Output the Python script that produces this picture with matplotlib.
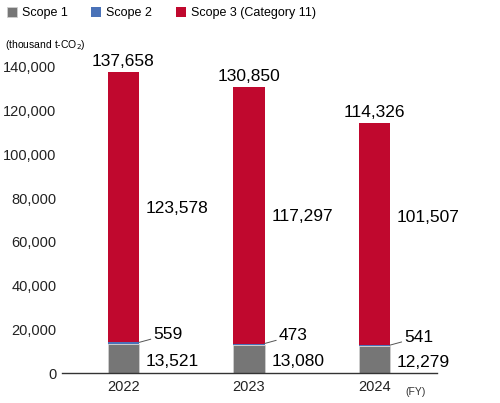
import numpy as np
import matplotlib.pyplot as plt

plt.rcParams['font.family'] = ['Liberation Sans', 'DejaVu Sans']

years = ['2022', '2023', '2024']
scope1 = [13521, 13080, 12279]
scope2 = [559, 473, 541]
scope3 = [123578, 117297, 101507]
totals = [137658, 130850, 114326]

c1 = '#767676'
c2 = '#4a72b8'
c3 = '#c0082e'

fig = plt.figure(figsize=(5, 4.03), dpi=100)
ax = fig.add_axes([0.124, 0.074, 0.75, 0.76])

x = np.arange(len(years))
w = 0.25
s1 = np.array(scope1)
s2 = np.array(scope2)
s3 = np.array(scope3)
ax.bar(x, s1, w, color=c1, edgecolor='#cfcfcf', linewidth=0.6, label='Scope 1')
ax.bar(x, s2, w, bottom=s1, color=c2, linewidth=0, label='Scope 2')
ax.bar(x, s3, w, bottom=s1 + s2, color=c3, linewidth=0, label='Scope 3 (Category 11)')

ax.set_xlim(-0.49, 2.5)
ax.set_ylim(0, 140000)
ax.set_yticks(range(0, 140001, 20000))
ax.set_yticklabels([f'{v:,}' for v in range(0, 140001, 20000)])
ax.set_xticks(x)
ax.set_xticklabels(years)
ax.tick_params(axis='both', length=0, labelsize=10.5, colors='#222222')
ax.tick_params(axis='y', pad=4)
ax.tick_params(axis='x', pad=5)
for sp in ['top', 'right', 'left']:
    ax.spines[sp].set_visible(False)
ax.spines['bottom'].set_color('#333333')
ax.spines['bottom'].set_linewidth(1.0)

for i in range(len(years)):
    ax.text(x[i], totals[i] + 1500, f'{totals[i]:,}', ha='center', va='bottom', fontsize=12.5)
    # scope 3 labels sit near the middle of the red part, but not lower than the 2023 one
    mid3 = max(s1[i] + s2[i] + s3[i] / 2, 72000)
    ax.text(x[i] + 0.18, mid3, f'{scope3[i]:,}', ha='left', va='center_baseline', fontsize=12.5)
    ax.text(x[i] + 0.18, s1[i] / 2 - 600, f'{scope1[i]:,}', ha='left', va='center_baseline', fontsize=12.5)
    top = s1[i] + s2[i]
    ax.annotate(f'{scope2[i]:,}', xy=(x[i] + w / 2, top), xytext=(x[i] + 0.24, top + 4300),
                ha='left', va='center_baseline', fontsize=12.5,
                arrowprops=dict(arrowstyle='-', color='#555555', lw=0.7, shrinkA=0, shrinkB=0))

ax.text(2.25, -0.045, '(FY)', transform=ax.get_xaxis_transform(), ha='left', va='top',
        fontsize=7.5, color='#333333')

fig.text(0.01, 0.872, '(thousand t-CO$_2$)', fontsize=7.5, ha='left', va='bottom')

handles, labels = ax.get_legend_handles_labels()
fig.legend(handles, labels, loc='upper left', bbox_to_anchor=(-0.009, 1.01), ncol=3, frameon=False,
           fontsize=9, handlelength=0.8, handleheight=0.8, handletextpad=0.4, columnspacing=1.9)

fig.savefig('out.png', dpi=100)
